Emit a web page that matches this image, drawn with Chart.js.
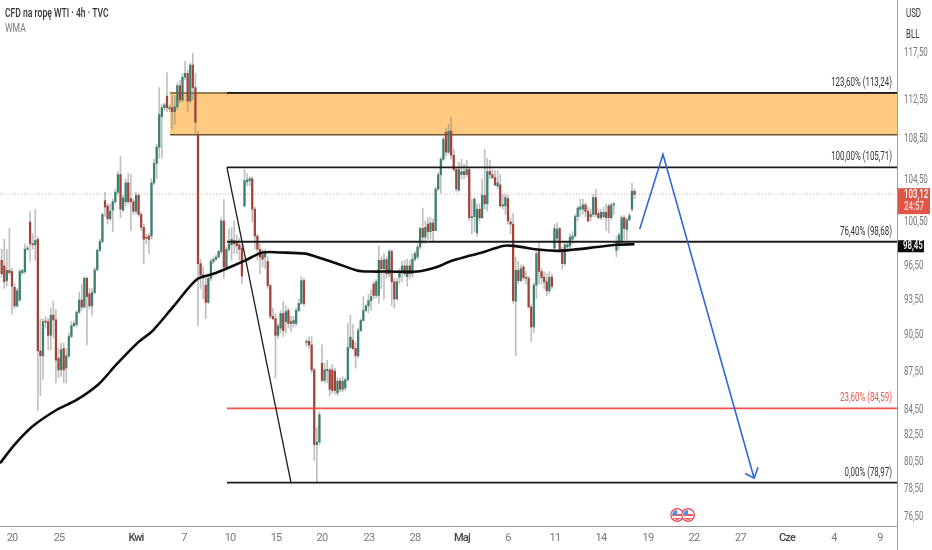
<!DOCTYPE html>
<html>
<head>
<meta charset="utf-8">
<style>
  html, body { margin: 0; padding: 0; background: #fff; }
  canvas { display: block; }
</style>
<script src="https://cdn.jsdelivr.net/npm/chart.js@4"></script>
</head>
<body>
<canvas id="canvas" width="932" height="550"></canvas>
<script>
// 4h candles, one bar per index
var opens = [
  97.0,96.5,95.2,96.1,96.0,94.6,93.0,93.5,95.9,96.0,
  98.0,100.5,98.5,98.4,98.9,89.2,88.8,91.7,91.65,90.5,
  92.2,91.8,88.6,87.65,89.4,87.8,88.8,90.4,91.3,91.4,
  92.45,93.5,92.9,95.4,94.05,93.0,94.15,96.15,97.9,98.7,
  102.5,102.0,100.8,101.6,102.4,103.3,105.0,101.6,102.4,104.2,
  102.7,102.4,101.5,103.0,101.2,100.0,99.1,99.2,99.2,104.2,
  106.1,107.7,110.8,111.7,112.9,111.7,111.7,111.3,111.8,114.0,
  112.5,114.9,115.3,112.4,116.2,113.8,109.0,96.7,95.7,94.8,
  93.3,95.4,96.9,97.1,97.3,97.8,100.6,96.4,98.0,98.4,
  98.8,98.6,98.4,98.1,102.0,104.3,104.4,104.6,101.7,99.2,
  98.0,97.5,97.3,96.9,94.75,92.1,91.9,90.5,91.1,92.35,
  91.65,92.6,91.65,91.5,91.5,92.6,93.2,95.2,89.9,90.0,
  89.7,87.65,81.8,82.0,88.2,86.8,87.6,87.65,87.65,87.55,
  85.8,86.75,86.1,86.2,86.85,89.5,90.1,89.4,88.8,90.9,
  91.75,92.6,93.0,93.45,94.9,93.9,93.9,97.0,96.25,97.05,
  95.8,97.8,95.1,93.6,95.5,96.0,96.5,95.55,96.5,95.8,
  97.1,97.3,98.2,99.9,99.1,100.3,99.6,100.4,99.7,103.6,
  105.0,106.5,109.2,107.2,109.3,106.9,105.5,103.5,105.0,105.3,
  105.0,105.5,100.9,101.0,99.5,101.7,100.9,103.0,102.2,105.3,
  105.0,104.7,103.9,104.0,102.0,102.0,102.7,100.5,100.3,93.4,
  96.1,95.2,96.4,95.45,95.4,92.9,91.2,94.8,97.8,96.0,
  95.5,95.1,94.3,95.5,98.1,99.0,99.9,98.0,96.7,98.2,
  98.3,98.9,99.2,101.0,101.7,101.7,102.1,101.5,101.0,101.2,
  102.8,101.3,100.9,101.0,101.4,102.0,100.9,102.1,97.9,98.5,
  98.7,100.9,99.8,100.7,101.7,103.4
];
var highs = [
  98.0,98.9,98.0,99.9,96.3,94.9,94.5,96.2,96.2,98.5,
  98.3,101.5,99.4,101.7,99.1,91.9,91.9,92.1,91.9,92.8,
  93.4,92.7,89.4,89.85,89.85,89.4,90.7,91.65,91.7,92.6,
  94.2,94.9,95.55,95.5,94.5,94.5,96.35,98.0,98.9,101.3,
  103.3,102.2,102.2,102.65,103.6,105.3,106.8,103.0,104.6,105.1,
  105.0,102.65,103.3,103.2,101.4,100.3,99.4,99.4,104.6,106.5,
  108.0,113.8,112.0,112.2,115.4,112.0,113.0,113.0,114.3,114.6,
  115.3,116.6,115.7,116.4,117.5,115.3,109.3,97.1,96.4,95.4,
  95.6,97.1,97.3,97.5,97.9,100.9,102.6,98.2,99.9,100.0,
  100.6,99.3,99.0,98.5,105.5,105.1,104.8,104.8,101.9,99.4,
  98.5,98.0,98.0,97.3,94.9,92.8,92.35,91.5,92.6,93.4,
  93.0,92.8,92.1,92.1,92.8,93.6,95.55,95.4,90.2,90.4,
  90.4,87.8,83.1,84.3,89.7,88.2,88.45,87.8,88.1,87.8,
  87.0,87.0,87.1,87.0,91.5,92.2,91.4,89.9,91.1,91.9,
  93.8,93.1,94.0,94.4,95.1,95.3,98.3,97.3,97.6,97.3,
  98.0,97.95,95.4,95.4,96.25,96.9,97.0,97.1,97.0,97.6,
  97.8,98.5,100.0,101.8,100.6,100.9,100.9,100.8,103.8,105.2,
  106.7,108.7,109.6,110.0,110.7,107.5,105.7,106.2,106.5,106.0,
  106.4,105.7,102.65,102.8,102.2,102.2,104.6,107.5,106.6,106.4,
  105.5,105.4,105.4,105.0,103.1,103.1,103.0,100.9,101.3,97.3,
  96.9,96.6,96.6,96.0,95.6,93.1,95.0,97.8,98.6,96.25,
  96.0,95.8,96.0,95.8,100.3,100.4,100.0,98.2,98.6,98.6,
  99.4,99.6,101.2,102.0,102.65,102.65,102.3,101.9,101.7,103.1,
  103.6,101.7,101.7,101.9,102.2,102.2,102.3,102.3,99.2,99.5,
  101.1,101.1,100.9,101.3,104.2,103.6
];
var lows = [
  95.5,94.5,94.7,95.7,92.3,92.8,92.9,93.4,95.7,95.8,
  97.9,96.9,98.0,97.0,84.4,85.6,86.85,91.1,89.3,89.3,
  90.3,86.6,87.0,87.15,86.6,86.6,88.6,90.25,91.2,91.2,
  92.35,92.6,92.8,89.7,92.8,92.2,94.05,96.1,97.8,98.6,
  101.0,100.3,100.6,99.6,102.2,103.1,100.9,101.5,102.0,102.2,
  99.7,101.2,101.3,101.0,99.7,96.7,98.5,97.6,98.9,104.0,
  104.6,106.6,106.6,111.4,111.3,111.3,109.5,110.0,111.5,112.2,
  112.3,114.6,111.3,112.2,112.5,109.0,91.3,94.5,93.6,91.9,
  93.2,95.2,96.7,97.0,97.2,97.6,95.4,96.2,97.8,97.0,
  97.6,97.6,97.0,94.9,101.9,103.9,103.9,100.5,98.0,97.0,
  95.8,96.4,96.25,94.5,91.9,91.8,87.0,90.25,90.7,90.4,
  90.7,91.1,90.8,91.2,91.3,92.5,93.1,93.0,89.6,89.4,
  87.4,80.6,79.0,81.8,86.7,86.6,86.6,85.6,85.8,85.7,
  85.6,85.9,85.9,86.0,86.75,89.4,89.3,87.8,88.6,90.8,
  91.7,92.5,92.4,92.6,93.6,93.7,93.2,94.5,93.6,95.4,
  95.55,93.0,92.8,93.5,94.9,95.1,95.55,94.7,95.4,95.5,
  96.9,97.1,98.0,98.5,98.5,98.9,98.9,98.6,99.7,103.5,
  103.2,106.3,106.8,107.0,106.5,105.3,103.4,103.4,104.6,104.6,
  104.8,100.6,99.4,99.6,99.2,100.6,100.8,101.7,101.5,104.6,
  104.6,103.9,103.6,101.9,101.7,101.2,100.3,99.4,93.2,88.8,
  94.9,95.1,95.2,94.9,92.8,90.0,90.7,93.6,94.9,94.9,
  94.5,93.9,94.05,94.5,98.0,98.7,97.9,96.25,96.5,98.0,
  98.1,98.5,99.1,100.6,101.0,101.2,101.0,100.5,100.6,101.0,
  101.0,100.8,100.7,100.8,99.7,99.5,100.7,101.2,97.3,98.0,
  98.6,98.9,98.9,100.6,101.5,102.7
];
var closes = [
  95.8,95.1,96.1,95.9,94.7,93.0,94.3,96.0,96.1,98.0,
  98.1,98.5,98.4,98.8,89.2,88.8,91.65,91.6,90.5,92.2,
  91.8,88.45,87.65,89.3,87.65,88.8,90.4,91.3,91.5,92.45,
  93.5,92.9,95.4,93.8,93.0,94.15,96.15,97.9,98.7,101.2,
  101.9,100.8,101.5,102.4,103.3,105.0,101.7,102.75,104.2,102.4,
  102.4,101.5,103.0,101.2,100.0,98.9,99.0,98.9,104.2,106.1,
  107.7,111.0,111.7,112.0,111.7,111.6,111.3,111.8,114.0,112.5,
  114.9,115.3,112.4,116.2,113.8,110.2,96.7,95.7,95.55,93.3,
  95.4,96.9,97.1,97.3,97.8,100.6,96.4,98.0,98.5,98.9,
  98.5,98.3,98.0,95.6,104.4,104.5,104.6,101.7,99.2,98.0,
  97.3,97.1,97.6,94.75,92.1,91.9,90.5,91.3,92.35,90.9,
  92.5,91.5,91.5,91.75,92.6,93.2,95.2,93.2,90.0,89.7,
  87.65,81.8,82.0,84.1,86.8,87.65,87.7,86.1,86.0,86.0,
  86.75,86.1,86.75,86.85,89.5,90.35,89.4,88.8,90.9,91.75,
  92.6,93.0,93.45,93.8,93.9,95.1,97.0,96.25,97.05,95.8,
  97.8,95.1,93.6,95.1,96.0,96.5,95.8,96.5,95.8,97.1,
  97.6,98.2,99.9,99.1,100.0,99.6,100.4,99.7,103.6,105.0,
  106.5,108.5,107.2,109.3,106.9,105.5,103.6,105.5,105.3,105.0,
  105.5,100.9,101.0,102.65,101.7,100.9,103.0,102.2,105.3,105.0,
  104.7,104.0,104.2,102.0,102.1,102.8,100.6,100.3,93.45,96.1,
  95.2,96.25,95.45,95.4,92.9,91.2,94.8,97.6,96.0,95.45,
  95.1,94.3,95.5,94.7,99.9,99.8,98.0,96.7,98.4,98.4,
  99.1,99.2,101.0,101.8,101.9,102.1,101.5,100.6,101.2,102.8,
  101.2,100.9,101.4,101.4,100.9,100.9,102.1,102.2,98.7,99.3,
  100.9,99.9,100.7,101.1,103.4,103.1
];

// WMA, read at a handful of bars
var wmaBars = [-0.65,5,12,21.5,29,37.5,44,52.5,58.5,66.5,75.5,82,88.5,93.5,101,108,117.5,122,130,137.5,143,150,161,168.5,173.5,181,186,194,198,208.5,215,221,230.5,238,245];
var wmaValues = [80.4,81.8,83.2,84.5,85.25,86.5,88.0,89.85,90.9,92.95,95.3,95.8,96.4,96.9,97.7,97.7,97.6,97.3,96.7,96.1,96.0,96.0,96.0,96.4,96.9,97.4,97.7,98.3,98.3,97.95,97.85,97.95,98.2,98.4,98.45];

// fibonacci levels
var fibLevels = [113.24, 105.71, 98.68, 84.59, 78.97];
var fibLabels = ['123,60% (113,24)', '100,00% (105,71)', '76,40% (98,68)', '23,60% (84,59)', '0,00% (78,97)'];
var fibColors = ['#1c1c1c', '#1c1c1c', '#1c1c1c', '#ef5348', '#1c1c1c'];
var fibStart = 87.2;

// orange zone
var zoneTop = 113.24;
var zoneBottom = 108.95;
var zoneStart = 65.2;

// hand drawn lines
var swingBars = [87.2, 112];
var swingValues = [105.71, 78.97];
var arrowBars = [247, 256, 291.3];
var arrowValues = [99.86, 107, 79.3];
var arrowHeadBars = [287.8, 291.3, 292.8];
var arrowHeadValues = [79.65, 79.3, 80.1];

var lastPrice = 103.12;
var wmaPrice = 98.45;
var countdown = '24:57';

// axes
var yTicks = [117.5, 112.5, 108.5, 104.5, 100.5, 96.5, 93.5, 90.5, 87.5, 84.5, 82.5, 80.5, 78.5, 76.5];
var xTickBars = [4, 22.2, 52, 70.6, 88.4, 106.2, 124, 142.2, 160, 178.2, 196, 214.2, 232, 250.2, 268, 286, 304, 322.2, 340];
var xTickLabels = ['20', '25', 'Kwi', '7', '10', '15', '20', '23', '28', 'Maj', '6', '11', '14', '19', '22', '27', 'Cze', '4', '9'];
var monthLabels = ['Kwi', 'Maj', 'Cze'];
var xMin = -0.65, xMax = 346.6;
var yMin = 75.87, yMax = 123.4;
var eventBars = [261.5, 265.7];

var fontName = 'Roboto, sans-serif';
var squeeze = 0.66;
var upColor = '#3a7f70', downColor = '#a0443a', wickColor = 'rgba(130,130,130,0.5)';

function comma(v) { return v.toFixed(2).replace('.', ','); }
function pts(xs, ys) { return xs.map(function (x, i) { return { x: x, y: ys[i] }; }); }
function hline(color, width, order, from, value, extra) {
  return Object.assign({
    type: 'line',
    data: [{ x: from, y: value }, { x: xMax, y: value }],
    borderColor: color, borderWidth: width, pointRadius: 0, order: order
  }, extra || {});
}
// the reference text is narrow, no narrow font is installed
function narrowText(ctx, text, x, y, align) {
  ctx.save();
  ctx.translate(x, y);
  ctx.scale(squeeze, 1);
  ctx.textAlign = align || 'left';
  ctx.textBaseline = 'middle';
  ctx.fillText(text, 0, 0);
  ctx.restore();
}
function noPadding(s) {
  s.paddingTop = 0; s.paddingBottom = 0; s.paddingLeft = 0; s.paddingRight = 0;
}

var candleColors = closes.map(function (c, i) { return c >= opens[i] ? upColor : downColor; });
var wicks = highs.map(function (h, i) { return { x: i, y: [lows[i], h] }; });
var bodies = opens.map(function (o, i) { return { x: i, y: [Math.min(o, closes[i]), Math.max(o, closes[i])] }; });

var datasets = [
  hline('#7a5a2a', 1.5, 9, zoneStart, zoneTop, { fill: { value: zoneBottom }, backgroundColor: '#ffcb80' }),
  hline('#6b5230', 1.5, 8, zoneStart, zoneBottom),
  hline('rgba(214,90,80,0.55)', 1, 7, xMin, lastPrice, { borderDash: [1, 2] }),
  { type: 'bar', data: wicks, backgroundColor: wickColor, barThickness: 1, grouped: false, order: 6 },
  { type: 'bar', data: bodies, backgroundColor: candleColors, barThickness: 1.6, minBarLength: 1, grouped: false, order: 5 },
  { type: 'line', data: pts(wmaBars, wmaValues), borderColor: '#0c0c0c', borderWidth: 2.6, pointRadius: 0, tension: 0.3, order: 2 },
  { type: 'line', data: pts(swingBars, swingValues), borderColor: '#1c1c1c', borderWidth: 1.3, pointRadius: 0, order: 1 },
  { type: 'line', data: pts(arrowBars, arrowValues), borderColor: '#2f66d8', borderWidth: 1.6, pointRadius: 0, order: 1 },
  { type: 'line', data: pts(arrowHeadBars, arrowHeadValues), borderColor: '#2f66d8', borderWidth: 1.6, pointRadius: 0, order: 1 }
];
fibLevels.forEach(function (v, i) {
  datasets.push(hline(fibColors[i], 1.8, 1, fibStart, v));
});

var overlay = {
  id: 'overlay',
  afterDraw: function (chart) {
    var ctx = chart.ctx, x = chart.scales.x, y = chart.scales.y;
    ctx.save();

    // axis lines run to the canvas edge
    ctx.strokeStyle = '#9b9b9b';
    ctx.lineWidth = 1;
    ctx.beginPath();
    ctx.moveTo(897.5, 0); ctx.lineTo(897.5, 550);
    ctx.moveTo(0, 526.5); ctx.lineTo(897, 526.5);
    ctx.stroke();

    // fib labels
    ctx.font = '12px ' + fontName;
    fibLevels.forEach(function (v, i) {
      ctx.fillStyle = fibColors[i] === '#1c1c1c' ? '#333' : fibColors[i];
      narrowText(ctx, fibLabels[i], 892, y.getPixelForValue(v) - 10, 'right');
    });

    // title
    ctx.fillStyle = '#333';
    ctx.font = '500 13px ' + fontName;
    narrowText(ctx, 'CFD na ropę WTI · 4h · TVC', 5, 14);
    ctx.fillStyle = '#777';
    ctx.font = '13px ' + fontName;
    narrowText(ctx, 'WMA', 5, 29);

    // currency and unit
    ctx.fillStyle = '#333';
    ctx.font = '12px ' + fontName;
    narrowText(ctx, 'USD', 906, 14);
    narrowText(ctx, 'BLL', 906, 35);

    // price tags
    var py = y.getPixelForValue(lastPrice);
    ctx.fillStyle = '#df5649';
    ctx.fillRect(898, py - 6, 32, 26);
    ctx.fillStyle = '#fff';
    ctx.font = '500 12px ' + fontName;
    narrowText(ctx, comma(lastPrice), 904, py + 1);
    ctx.fillStyle = '#ffd9d4';
    narrowText(ctx, countdown, 904, py + 13);

    var wy = y.getPixelForValue(wmaPrice);
    ctx.fillStyle = '#0c0c0c';
    ctx.fillRect(898, wy - 4, 26, 12);
    ctx.fillStyle = '#fff';
    narrowText(ctx, comma(wmaPrice), 903, wy + 2);

    // event flags
    eventBars.forEach(function (b) {
      var cx = x.getPixelForValue(b), cy = 515;
      ctx.beginPath();
      ctx.arc(cx, cy, 6.3, 0, Math.PI * 2);
      ctx.fillStyle = '#fff';
      ctx.fill();
      ctx.save();
      ctx.beginPath();
      ctx.arc(cx, cy, 5, 0, Math.PI * 2);
      ctx.clip();
      ctx.fillStyle = '#ee5a62';
      ctx.fillRect(cx - 6, cy - 1, 12, 2);
      ctx.fillRect(cx - 6, cy + 3, 12, 2);
      ctx.fillStyle = '#4a93e0';
      ctx.fillRect(cx - 6, cy - 6, 6, 6);
      ctx.restore();
      ctx.beginPath();
      ctx.arc(cx, cy, 6.3, 0, Math.PI * 2);
      ctx.strokeStyle = '#e8404e';
      ctx.lineWidth = 1.2;
      ctx.stroke();
    });
    ctx.restore();
  }
};

new Chart(document.getElementById('canvas').getContext('2d'), {
  type: 'bar',
  data: { datasets: datasets },
  plugins: [overlay],
  options: {
    responsive: false,
    animation: false,
    layout: { padding: 0 },
    plugins: { legend: { display: false }, tooltip: { enabled: false } },
    scales: {
      x: {
        type: 'linear',
        min: xMin,
        max: xMax,
        offset: false,
        grid: { display: false, drawTicks: false },
        border: { display: false },
        afterFit: function (s) { s.height = 24; noPadding(s); },
        afterBuildTicks: function (s) {
          s.ticks = xTickBars.map(function (b) { return { value: b }; });
        },
        afterUpdate: function (s) {
          var draw = Object.getPrototypeOf(s).drawLabels;
          s.drawLabels = function (area) {
            s.ctx.save();
            s.ctx.letterSpacing = '-0.8px';
            draw.call(s, area);
            s.ctx.restore();
          };
        },
        ticks: {
          autoSkip: false,
          maxRotation: 0,
          padding: 6,
          font: function (c) {
            var month = monthLabels.indexOf(xTickLabels[c.index]) >= 0;
            return { family: fontName, size: 11, weight: month ? '500' : 'normal' };
          },
          color: function (c) {
            return monthLabels.indexOf(xTickLabels[c.index]) >= 0 ? '#444' : '#777';
          },
          callback: function (v, i) { return xTickLabels[i]; }
        }
      },
      y: {
        type: 'logarithmic',
        position: 'right',
        min: yMin,
        max: yMax,
        grid: { display: false, drawTicks: false },
        border: { display: false },
        afterFit: function (s) { s.width = 35; noPadding(s); },
        afterBuildTicks: function (s) {
          s.ticks = yTicks.map(function (v) { return { value: v }; });
        },
        afterUpdate: function (s) {
          var draw = Object.getPrototypeOf(s).drawLabels;
          s._computeLabelArea = function () { return undefined; };
          s.drawLabels = function (area) {
            var ctx = s.ctx, left = s.left + 7;
            ctx.save();
            ctx.translate(left, 0);
            ctx.scale(squeeze, 1);
            ctx.translate(-left, 0);
            draw.call(s, area);
            ctx.restore();
          };
        },
        ticks: {
          autoSkip: false,
          padding: 7,
          color: '#777',
          font: { family: fontName, size: 12 },
          callback: function (v) { return comma(v); }
        }
      }
    }
  }
});
</script>
</body>
</html>
